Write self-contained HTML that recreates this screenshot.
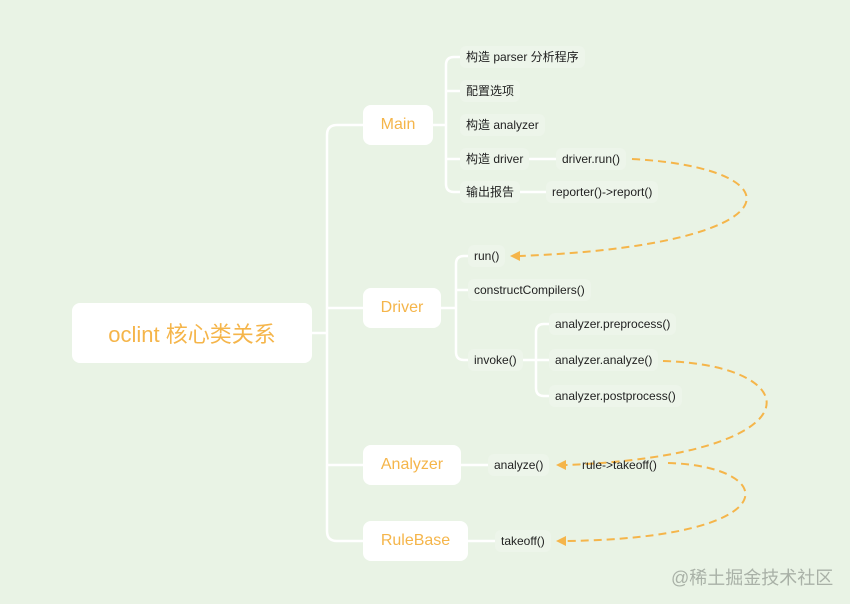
<!DOCTYPE html>
<html><head><meta charset="utf-8"><style>
body{margin:0;width:850px;height:604px;background:#e9f3e5;position:relative;overflow:hidden;font-family:"Liberation Sans","Noto Sans CJK SC",sans-serif}
.n{position:absolute;background:#fff;border-radius:8px;color:#f5b54a;display:flex;align-items:center;justify-content:center}
.l{position:absolute;font-size:12px;color:#222;background:#edf5ea;border-radius:6px;padding:4px 6px;line-height:14px;white-space:nowrap;transform:translateY(-50%)}
svg{position:absolute;left:0;top:0}
</style></head><body>
<svg width="850" height="604">
<g fill="none" stroke="#fff" stroke-width="2.5">
<path d="M312 333H327"/>
<path d="M363 125H337Q327 125 327 135V531Q327 541 337 541H363"/>
<path d="M327 308H363M327 465H363"/>
<path d="M433 125H446"/>
<path d="M460 57H454Q446 57 446 65V184Q446 192 454 192H460"/>
<path d="M446 91H460M446 159H460M527 159H556M518 192H546"/>
<path d="M441 308H456"/>
<path d="M468 256H464Q456 256 456 264V352Q456 360 464 360H468"/>
<path d="M456 290H468M520 360H536"/>
<path d="M549 324H544Q536 324 536 332V388Q536 396 544 396H549"/>
<path d="M536 360H549"/>
<path d="M461 465H488M468 541H495"/>
</g>
<g fill="none" stroke="#f5b54a" stroke-width="2" stroke-dasharray="8 5">
<path d="M632 159C800 168 800 245 520 256"/>
<path d="M663 361C810 365 820 455 566 465"/>
<path d="M668 463C780 466 790 538 566 541"/>
</g>
<g fill="#f5b54a">
<path d="M510 256L520 251L520 261Z"/>
<path d="M556 465L566 460L566 470Z"/>
<path d="M556 541L566 536L566 546Z"/>
</g>
</svg>
<div class="n" style="left:72px;top:303px;width:240px;height:60px;font-size:22px">oclint 核心类关系</div>
<div class="n" style="left:363px;top:105px;width:70px;height:40px;font-size:16px">Main</div>
<div class="n" style="left:363px;top:288px;width:78px;height:40px;font-size:16px">Driver</div>
<div class="n" style="left:363px;top:445px;width:98px;height:40px;font-size:16px">Analyzer</div>
<div class="n" style="left:363px;top:521px;width:105px;height:40px;font-size:16px">RuleBase</div>
<div class="l" style="left:460px;top:57px">构造 parser 分析程序</div>
<div class="l" style="left:460px;top:91px">配置选项</div>
<div class="l" style="left:460px;top:125px">构造 analyzer</div>
<div class="l" style="left:460px;top:159px">构造 driver</div>
<div class="l" style="left:460px;top:192px">输出报告</div>
<div class="l" style="left:556px;top:159px">driver.run()</div>
<div class="l" style="left:546px;top:192px">reporter()-&gt;report()</div>
<div class="l" style="left:468px;top:256px">run()</div>
<div class="l" style="left:468px;top:290px">constructCompilers()</div>
<div class="l" style="left:468px;top:360px">invoke()</div>
<div class="l" style="left:549px;top:324px">analyzer.preprocess()</div>
<div class="l" style="left:549px;top:360px">analyzer.analyze()</div>
<div class="l" style="left:549px;top:396px">analyzer.postprocess()</div>
<div class="l" style="left:488px;top:465px">analyze()</div>
<div class="l" style="left:576px;top:465px;background:transparent">rule-&gt;takeoff()</div>
<div class="l" style="left:495px;top:541px">takeoff()</div>
<div style="position:absolute;left:671px;top:564px;font-size:18px;color:#a9b1a7">@稀土掘金技术社区</div>
</body></html>
